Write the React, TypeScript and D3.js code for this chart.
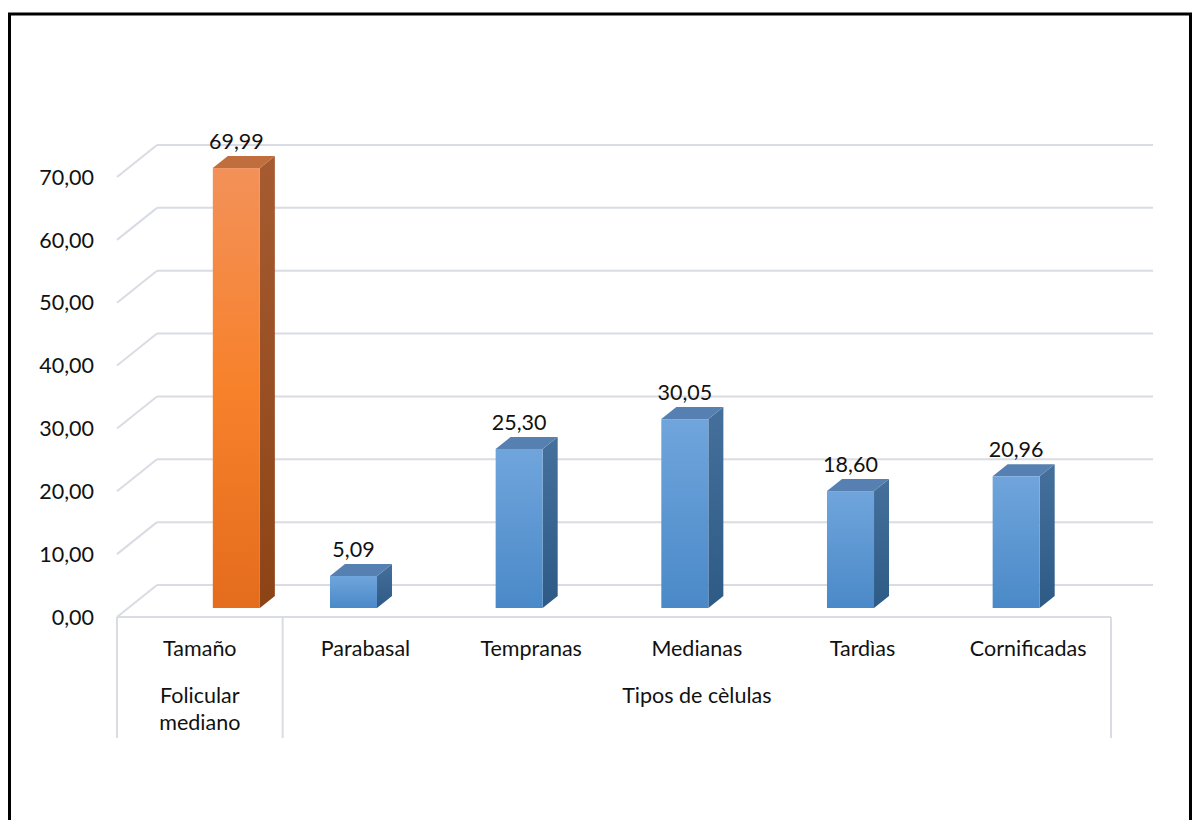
import React from "react";
import * as d3 from "d3";

// Categorías del eje X (primer nivel) y sus valores
const categories = ["Tamaño", "Parabasal", "Tempranas", "Medianas", "Tardìas", "Cornificadas"];
const values = [69.99, 5.09, 25.3, 30.05, 18.6, 20.96];
const seriesOf = ["naranja", "azul", "azul", "azul", "azul", "azul"];
const seriesKeys = ["azul", "naranja"];

// Segundo nivel del eje de categorías
const groupLabels = [["Folicular", "mediano"], ["Tipos de cèlulas"]];
const groupSpans = [[0, 0], [1, 5]];

const yTicks = [0, 10, 20, 30, 40, 50, 60, 70];

const W = 1192;
const H = 820;

const fmt = (v: number) => v.toFixed(2).replace(".", ",");

export default function App() {
  const x = d3.scaleBand<string>().domain(categories).range([117, 1111]);
  const inner = d3.scaleBand<string>().domain(seriesKeys).range([-48.5, 48.5]);
  const y = d3.scaleLinear().domain([0, 70]).range([617, 177]);

  // Proyección oblicua: pared del fondo, cara frontal de las barras y profundidad de la barra
  const back = { dx: 40, dy: -32 };
  const face = { dx: 12.25, dy: -9 };
  const depth = { dx: 15, dy: -12 };
  const barW = inner.bandwidth() * 0.97;
  const floorY = y(0);
  const backRight = 1153;
  const boxBottom = 738;

  const font = "Lato, 'Open Sans', sans-serif";
  const fs = 21.5;

  return (
    <svg
      width={W}
      height={H}
      style={{ position: "fixed", left: 0, top: 0, background: "#fff" }}
      fontFamily={font}
    >
      <defs>
        <linearGradient id="frenteNaranja" x1="0" y1="0" x2="0" y2="1">
          <stop offset="0" stopColor="#F39159" />
          <stop offset="0.5" stopColor="#F7812B" />
          <stop offset="1" stopColor="#E46C1D" />
        </linearGradient>
        <linearGradient id="ladoNaranja" x1="0" y1="0" x2="0" y2="1">
          <stop offset="0" stopColor="#A65B31" />
          <stop offset="1" stopColor="#8C4416" />
        </linearGradient>
        <linearGradient id="frenteAzul" x1="0" y1="0" x2="0" y2="1">
          <stop offset="0" stopColor="#70A5DC" />
          <stop offset="1" stopColor="#4A89C8" />
        </linearGradient>
        <linearGradient id="ladoAzul" x1="0" y1="0" x2="0" y2="1">
          <stop offset="0" stopColor="#45709C" />
          <stop offset="1" stopColor="#2E5A86" />
        </linearGradient>
      </defs>

      {/* Marco del gráfico */}
      <path d={`M9.5,830 V14 H1190.5 V830`} fill="none" stroke="#000" strokeWidth={3} />

      {/* Líneas de división: pared del fondo y pared lateral */}
      <g stroke="#D9DCE3" strokeWidth={2} fill="none">
        {yTicks.map((t) => (
          <g key={t}>
            <line x1={117 + back.dx} x2={backRight} y1={y(t) + back.dy} y2={y(t) + back.dy} />
            <line x1={117} y1={y(t)} x2={117 + back.dx} y2={y(t) + back.dy} />
          </g>
        ))}
        {/* Borde frontal del suelo y casillas del eje de categorías */}
        <line x1={117} x2={1111} y1={floorY} y2={floorY} />
        {[117, x("Parabasal")!, 1111].map((xx, i) => (
          <line key={i} x1={xx} x2={xx} y1={floorY} y2={boxBottom} />
        ))}
      </g>

      {/* Etiquetas del eje de valores */}
      <g fontSize={fs} fill="#111" textAnchor="end">
        {yTicks.map((t) => (
          <text key={t} x={94} y={y(t)} dy="0.36em">
            {fmt(t)}
          </text>
        ))}
      </g>

      {/* Barras 3D */}
      {categories.map((c, i) => {
        const v = values[i];
        const s = seriesOf[i];
        const cx = x(c)! + x.bandwidth() / 2 + inner(s)! + inner.bandwidth() / 2 + face.dx;
        const x0 = cx - barW / 2;
        const x1 = cx + barW / 2;
        const yb = y(0) + face.dy;
        const yt = y(v) + face.dy;
        const isN = s === "naranja";
        const top = `M${x0},${yt} L${x1},${yt} L${x1 + depth.dx},${yt + depth.dy} L${x0 + depth.dx},${yt + depth.dy} Z`;
        const side = `M${x1},${yt} L${x1 + depth.dx},${yt + depth.dy} L${x1 + depth.dx},${yb + depth.dy} L${x1},${yb} Z`;
        return (
          <g key={c}>
            <path d={side} fill={`url(#${isN ? "ladoNaranja" : "ladoAzul"})`} />
            <path d={top} fill={isN ? "#C06E3D" : "#5680B1"} />
            <rect x={x0} y={yt} width={barW} height={yb - yt} fill={`url(#${isN ? "frenteNaranja" : "frenteAzul"})`} />
            <text x={cx} y={yt + depth.dy - 7} textAnchor="middle" fontSize={fs} fill="#111">
              {fmt(v)}
            </text>
          </g>
        );
      })}

      {/* Eje de categorías: primer nivel */}
      <g fontSize={fs} fill="#111" textAnchor="middle">
        {categories.map((c) => (
          <text key={c} x={x(c)! + x.bandwidth() / 2} y={648} dy="0.36em">
            {c}
          </text>
        ))}
        {/* Segundo nivel */}
        {groupLabels.map((lines, gi) => {
          const [a, b] = groupSpans[gi];
          const gx = (x(categories[a])! + x(categories[b])! + x.bandwidth()) / 2;
          return lines.map((ln, li) => (
            <text key={`${gi}-${li}`} x={gx} y={695 + li * 27} dy="0.36em">
              {ln}
            </text>
          ));
        })}
      </g>
    </svg>
  );
}
